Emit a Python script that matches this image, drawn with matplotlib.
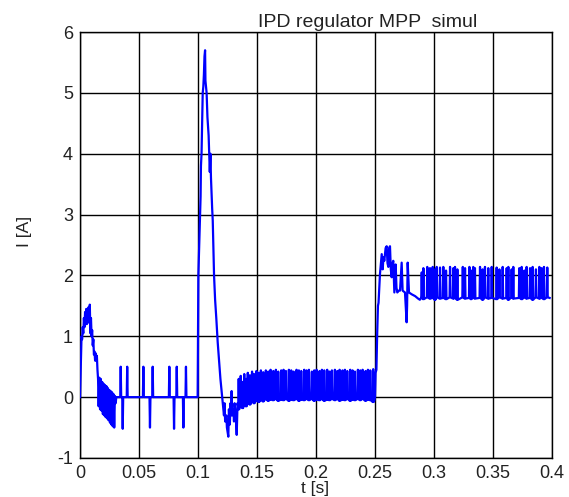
import matplotlib
matplotlib.use("Agg")
import matplotlib.pyplot as plt
import numpy as np

plt.rcParams['font.family'] = ['Liberation Sans', 'DejaVu Sans']

# start-up transient (t in s, I in A)
start_t = [0.0, 0.0008, 0.0013, 0.0018, 0.0023, 0.0028, 0.0033, 0.0038, 0.0043, 0.0048,
           0.0053, 0.0058, 0.0063, 0.0068, 0.0073, 0.0078, 0.0083, 0.0088, 0.0093, 0.0098,
           0.0103, 0.0108, 0.0113, 0.0118, 0.0123, 0.0128, 0.0133, 0.0138, 0.0143, 0.0148,
           0.0153, 0.0158, 0.0164, 0.0170, 0.0176, 0.0182, 0.0188, 0.0194, 0.0200, 0.0206,
           0.0212, 0.0218, 0.0224, 0.0230, 0.0236, 0.0242, 0.0248, 0.0254, 0.0260, 0.0266,
           0.0272, 0.0278, 0.0284, 0.0290, 0.0296, 0.0302, 0.0308, 0.0315]
start_i = [0.0, 0.6, 1.0, 0.95, 1.15, 1.05, 1.3, 1.15, 1.4, 1.2,
           1.45, 1.2, 1.38, 1.25, 1.48, 1.22, 1.52, 1.05, 1.3, 1.0,
           1.1, 0.85, 0.95, 0.7, 0.75, 0.6, 0.72, 0.6, 0.68, 0.45,
           0.3, -0.15, 0.32, -0.2, 0.3, -0.22, 0.25, -0.28, 0.22, -0.3,
           0.2, -0.33, 0.18, -0.35, 0.15, -0.38, 0.12, -0.42, 0.1, -0.45,
           0.08, -0.48, 0.05, -0.5, 0.02, -0.1, 0.0, 0.0]

# isolated spikes on zero level before the step
idle_t = [0.0345, 0.0362, 0.0400, 0.0537, 0.0593, 0.0616, 0.0757, 0.0797, 0.0820, 0.0876, 0.0898]
idle_i = [0.50, -0.52, 0.50, 0.50, -0.50, 0.50, 0.50, -0.52, 0.50, -0.50, 0.50]

# big current peak around 0.1 s
peak_t = [0.0997, 0.1000, 0.1003, 0.1017, 0.1022, 0.1025, 0.1030, 0.1035, 0.1040, 0.1045,
          0.1050, 0.1055, 0.1060, 0.1063, 0.1068, 0.1073, 0.1080, 0.1090, 0.1095, 0.1100,
          0.1105, 0.1110, 0.1120, 0.1125, 0.1136, 0.1145, 0.1155, 0.1167, 0.1190, 0.1205,
          0.1220, 0.1225, 0.1230, 0.1240, 0.1245, 0.1257, 0.1262, 0.1270, 0.1275, 0.1280,
          0.1285, 0.1290, 0.1300, 0.1305, 0.1310, 0.1320, 0.1328, 0.1335, 0.1340]
peak_i = [0.0, 1.0, 2.0, 3.0, 3.3, 3.8, 4.0, 4.5, 5.0, 5.1,
          5.3, 5.6, 5.7, 5.2, 5.1, 5.0, 4.6, 4.3, 4.0, 3.7,
          4.0, 3.6, 3.1, 2.9, 2.0, 1.6, 1.3, 0.9, 0.3, 0.0,
          -0.3, -0.1, -0.4, -0.3, -0.5, -0.65, -0.2, -0.45, -0.1, -0.3,
          0.1, -0.3, -0.2, -0.4, -0.1, -0.3, -0.62, -0.1, -0.15]

# dense spikes on zero level
low_t = [0.1345, 0.1362, 0.1378, 0.1392, 0.1408, 0.1422, 0.1440, 0.1458, 0.1475, 0.1495,
         0.1515, 0.1533, 0.1552, 0.1575, 0.1595, 0.1615, 0.1638, 0.1660, 0.1680, 0.1705,
         0.1725, 0.1745, 0.1770, 0.1790, 0.1810, 0.1835, 0.1855, 0.1875, 0.1900, 0.1920,
         0.1940, 0.1965, 0.1985, 0.2005, 0.2030, 0.2050, 0.2070, 0.2095, 0.2115, 0.2135,
         0.2160, 0.2180, 0.2200, 0.2225, 0.2245, 0.2265, 0.2290, 0.2310, 0.2330, 0.2355,
         0.2375, 0.2395, 0.2420, 0.2440, 0.2460, 0.2485]
low_hi = [0.30, 0.35, 0.25, 0.38, 0.30, 0.40, 0.36, 0.42, 0.38, 0.43,
          0.40, 0.44, 0.41, 0.44, 0.42, 0.45, 0.43, 0.45, 0.42, 0.44,
          0.45, 0.43, 0.45, 0.44, 0.42, 0.45, 0.44, 0.43, 0.45, 0.44,
          0.45, 0.42, 0.44, 0.45, 0.43, 0.45, 0.44, 0.45, 0.42, 0.44,
          0.45, 0.43, 0.45, 0.44, 0.45, 0.43, 0.45, 0.44, 0.42, 0.45,
          0.44, 0.45, 0.43, 0.45, 0.44, 0.46]
low_lo = [-0.20, -0.10, -0.18, -0.08, -0.15, -0.10, -0.12, -0.06, -0.10, -0.05,
          -0.08, -0.04, -0.07, -0.03, -0.06, -0.04, -0.05, -0.03, -0.06, -0.04,
          -0.05, -0.03, -0.06, -0.04, -0.05, -0.03, -0.06, -0.04, -0.05, -0.03,
          -0.05, -0.03, -0.06, -0.04, -0.05, -0.03, -0.06, -0.04, -0.05, -0.03,
          -0.05, -0.03, -0.06, -0.04, -0.05, -0.03, -0.06, -0.04, -0.05, -0.03,
          -0.05, -0.03, -0.06, -0.04, -0.05, -0.08]

# step at 0.25 s and settling
step_t = [0.2495, 0.2500, 0.2505, 0.2512, 0.2518, 0.2525, 0.2530, 0.2542, 0.2557, 0.2565,
          0.2572, 0.2579, 0.2590, 0.2599, 0.2606, 0.2613, 0.2620, 0.2627, 0.2634, 0.2641,
          0.2648, 0.2655, 0.2664, 0.2675, 0.2682, 0.2689, 0.2700, 0.2712, 0.2726, 0.2734,
          0.2754, 0.2768, 0.2772, 0.2777, 0.2788, 0.2811, 0.2840, 0.2865, 0.2880, 0.2890]
step_i = [-0.05, 0.0, 0.40, 0.45, 1.0, 1.5, 1.55, 2.02, 2.35, 2.1,
          2.3, 2.24, 2.45, 2.48, 2.2, 2.14, 2.45, 2.48, 2.1, 1.97,
          2.2, 2.24, 1.72, 2.18, 1.8, 1.72, 1.75, 1.75, 2.21, 1.75,
          1.72, 1.23, 1.5, 2.21, 1.72, 1.69, 1.66, 1.62, 1.6, 1.63]

# steady state spikes around 1.6-2.1 A
high_t = [0.2896, 0.2910, 0.2943, 0.2966, 0.2989, 0.3008, 0.3023, 0.3051, 0.3079, 0.3102,
          0.3136, 0.3164, 0.3178, 0.3198, 0.3244, 0.3263, 0.3300, 0.3314, 0.3333, 0.3347,
          0.3390, 0.3412, 0.3432, 0.3460, 0.3489, 0.3531, 0.3554, 0.3582, 0.3616, 0.3630,
          0.3658, 0.3672, 0.3723, 0.3743, 0.3766, 0.3785, 0.3814, 0.3836, 0.3864, 0.3893,
          0.3912, 0.3932, 0.3960]
high_hi = [2.05, 2.12, 2.14, 2.12, 2.14, 2.10, 2.14, 2.13, 2.14, 2.08,
           2.14, 2.12, 2.14, 2.10, 2.14, 2.12, 2.14, 2.08, 2.14, 2.12,
           2.14, 2.10, 2.14, 2.12, 2.14, 2.13, 2.10, 2.14, 2.12, 2.14,
           2.10, 2.14, 2.12, 2.14, 2.08, 2.14, 2.12, 2.14, 2.10, 2.14,
           2.12, 2.14, 2.13]
high_lo = [1.63, 1.61, 1.64, 1.62, 1.63, 1.60, 1.64, 1.62, 1.63, 1.61,
           1.64, 1.62, 1.63, 1.60, 1.64, 1.62, 1.63, 1.61, 1.64, 1.62,
           1.63, 1.60, 1.64, 1.62, 1.63, 1.61, 1.64, 1.62, 1.63, 1.60,
           1.64, 1.62, 1.63, 1.61, 1.64, 1.62, 1.63, 1.60, 1.64, 1.62,
           1.63, 1.61, 1.64]
end_t = [0.3980]
end_i = [1.63]

x_ticks = [0, 0.05, 0.1, 0.15, 0.2, 0.25, 0.3, 0.35, 0.4]
x_labels = ['0', '0.05', '0.1', '0.15', '0.2', '0.25', '0.3', '0.35', '0.4']
y_ticks = [-1, 0, 1, 2, 3, 4, 5, 6]
y_labels = ['-1', '0', '1', '2', '3', '4', '5', '6']


def spikes(ts, hi, lo, w=0.0004):
    # each spike: base -> tip -> base
    tt, ii = [], []
    for t, h, l in zip(ts, hi, lo):
        tt += [t - w, t, t + w]
        ii += [l, h, l]
    return tt, ii


t = list(start_t)
i = list(start_i)
a, b = spikes(idle_t, idle_i, [0.0] * len(idle_t))
t += a
i += b
t += peak_t
i += peak_i
a, b = spikes(low_t, low_hi, low_lo)
t += a
i += b
t += step_t
i += step_i
a, b = spikes(high_t, high_hi, high_lo)
t += a
i += b
t += end_t
i += end_i

fig = plt.figure(figsize=(5.69, 4.97), dpi=100)
ax = fig.add_axes([80 / 569, 39 / 497, 472 / 569, 426 / 497])

ax.plot(t, i, color='#0000ff', lw=1.6, zorder=3)

ax.set_xlim(0, 0.4)
ax.set_ylim(-1, 6)
ax.set_xticks(x_ticks)
ax.set_xticklabels(x_labels)
ax.set_yticks(y_ticks)
ax.set_yticklabels(y_labels)
ax.grid(True, color='black', lw=1.0, ls='-')
ax.tick_params(direction='in', length=0, labelsize=13, colors='#222222', pad=5)
for s in ax.spines.values():
    s.set_linewidth(1.0)
    s.set_color('black')

fig.text(258 / 569, 1 - 27 / 497, 'IPD regulator MPP  simul', fontsize=14,
         color='#222222', ha='left', va='baseline')
fig.text(315 / 569, 1 - 489 / 497, 't [s]', fontsize=12.5, color='#222222',
         ha='center', va='center')
fig.text(24 / 569, 1 - 231 / 497, 'I [A]', fontsize=12.5, color='#222222',
         ha='center', va='center', rotation=90)

fig.savefig('out.png', dpi=100)
